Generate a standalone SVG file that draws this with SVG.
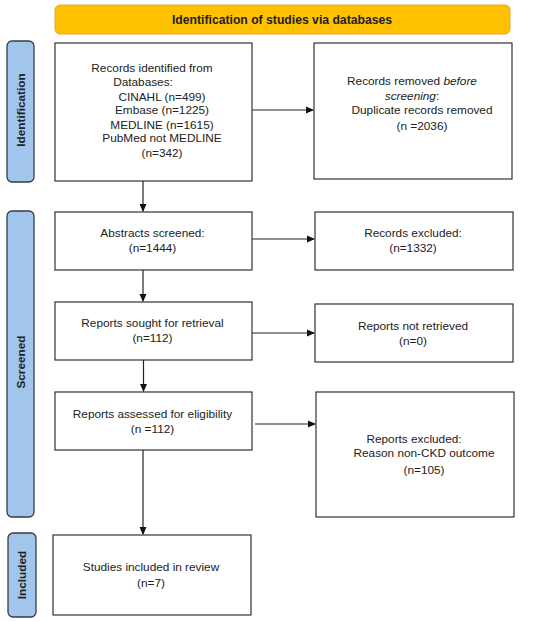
<svg xmlns="http://www.w3.org/2000/svg" width="550" height="622" viewBox="0 0 550 622">
<defs>
<style>
.box{fill:#fff;stroke:#333;stroke-width:1.2}
.bar{fill:#a2c5eb;stroke:#333d4a;stroke-width:1.3}
.hdr{fill:#ffc000;stroke:#e2a93a;stroke-width:1}
.t{font-family:"Liberation Sans",Arial,sans-serif;font-size:11.8px;fill:#222;text-anchor:middle}
.b{font-family:"Liberation Sans",Arial,sans-serif;font-size:11.8px;font-weight:bold;fill:#222;text-anchor:middle}
.hb{font-family:"Liberation Sans",Arial,sans-serif;font-size:12.2px;font-weight:bold;fill:#222;text-anchor:middle}
.c{stroke:#222;stroke-width:1.2;fill:none;marker-end:url(#ah)}
</style>
<marker id="ah" markerWidth="8" markerHeight="8" refX="7" refY="4" orient="auto" markerUnits="userSpaceOnUse">
<path d="M0,0.5 L8,4 L0,7.5 Z" fill="#111"/>
</marker>
</defs>
<rect width="550" height="622" fill="#fff"/>

<g id="header">
<rect class="hdr" x="55" y="5" width="455" height="29" rx="5"/>
<text class="hb" x="282" y="23.5">Identification of studies via databases</text>
</g>

<g id="bar-identification">
<rect class="bar" x="7" y="41" width="27" height="141" rx="5"/>
<text class="b" transform="translate(24.5,110) rotate(-90)">Identification</text>
</g>
<g id="bar-screened">
<rect class="bar" x="7" y="211" width="27" height="306" rx="5"/>
<text class="b" transform="translate(24.5,362) rotate(-90)">Screened</text>
</g>
<g id="bar-included">
<rect class="bar" x="8" y="533" width="28" height="84" rx="5"/>
<text class="b" transform="translate(26,575) rotate(-90)">Included</text>
</g>

<g id="records-identified">
<rect class="box" x="55" y="43" width="197" height="138"/>
<text class="t" x="152" y="72">Records identified from</text>
<text class="t" x="143" y="86">Databases:</text>
<text class="t" x="162" y="101">CINAHL (n=499)</text>
<text class="t" x="162" y="114">Embase (n=1225)</text>
<text class="t" x="162" y="129">MEDLINE (n=1615)</text>
<text class="t" x="162" y="142">PubMed not MEDLINE</text>
<text class="t" x="162" y="157">(n=342)</text>
</g>

<g id="records-removed">
<rect class="box" x="314" y="43" width="198" height="136"/>
<text class="t" x="412" y="85">Records removed <tspan font-style="italic">before</tspan></text>
<text class="t" x="412" y="100"><tspan font-style="italic">screening</tspan>:</text>
<text class="t" x="422" y="114">Duplicate records removed</text>
<text class="t" x="422" y="130">(n =2036)</text>
</g>

<g id="abstracts-screened">
<rect class="box" x="55" y="212" width="197" height="58"/>
<text class="t" x="152.5" y="237">Abstracts screened:</text>
<text class="t" x="152.5" y="252">(n=1444)</text>
</g>

<g id="records-excluded">
<rect class="box" x="315" y="212" width="198" height="58"/>
<text class="t" x="413" y="237">Records excluded:</text>
<text class="t" x="413" y="252">(n=1332)</text>
</g>

<g id="reports-sought">
<rect class="box" x="55" y="302" width="197" height="58"/>
<text class="t" x="152.5" y="327">Reports sought for retrieval</text>
<text class="t" x="152.5" y="342">(n=112)</text>
</g>

<g id="reports-not-retrieved">
<rect class="box" x="315" y="304" width="198" height="58"/>
<text class="t" x="413" y="330">Reports not retrieved</text>
<text class="t" x="413" y="345">(n=0)</text>
</g>

<g id="reports-assessed">
<rect class="box" x="55" y="392" width="197" height="58"/>
<text class="t" x="152.5" y="418">Reports assessed for eligibility</text>
<text class="t" x="152.5" y="433">(n =112)</text>
</g>

<g id="reports-excluded">
<rect class="box" x="316" y="392" width="198" height="125"/>
<text class="t" x="414" y="443">Reports excluded:</text>
<text class="t" x="424" y="457">Reason non-CKD outcome</text>
<text class="t" x="424" y="474">(n=105)</text>
</g>

<g id="studies-included">
<rect class="box" x="53" y="535" width="198" height="80"/>
<text class="t" x="151" y="571">Studies included in review</text>
<text class="t" x="151" y="587">(n=7)</text>
</g>

<g id="connectors">
<line class="c" x1="252" y1="110" x2="313" y2="110"/>
<line class="c" x1="143" y1="181" x2="143" y2="211"/>
<line class="c" x1="252" y1="239" x2="314" y2="239"/>
<line class="c" x1="143" y1="270" x2="143" y2="301"/>
<line class="c" x1="252" y1="333" x2="314" y2="333"/>
<line class="c" x1="143.5" y1="360" x2="143.5" y2="391"/>
<line class="c" x1="255" y1="424" x2="315" y2="424"/>
<line class="c" x1="143" y1="450" x2="143" y2="534"/>
</g>
</svg>
